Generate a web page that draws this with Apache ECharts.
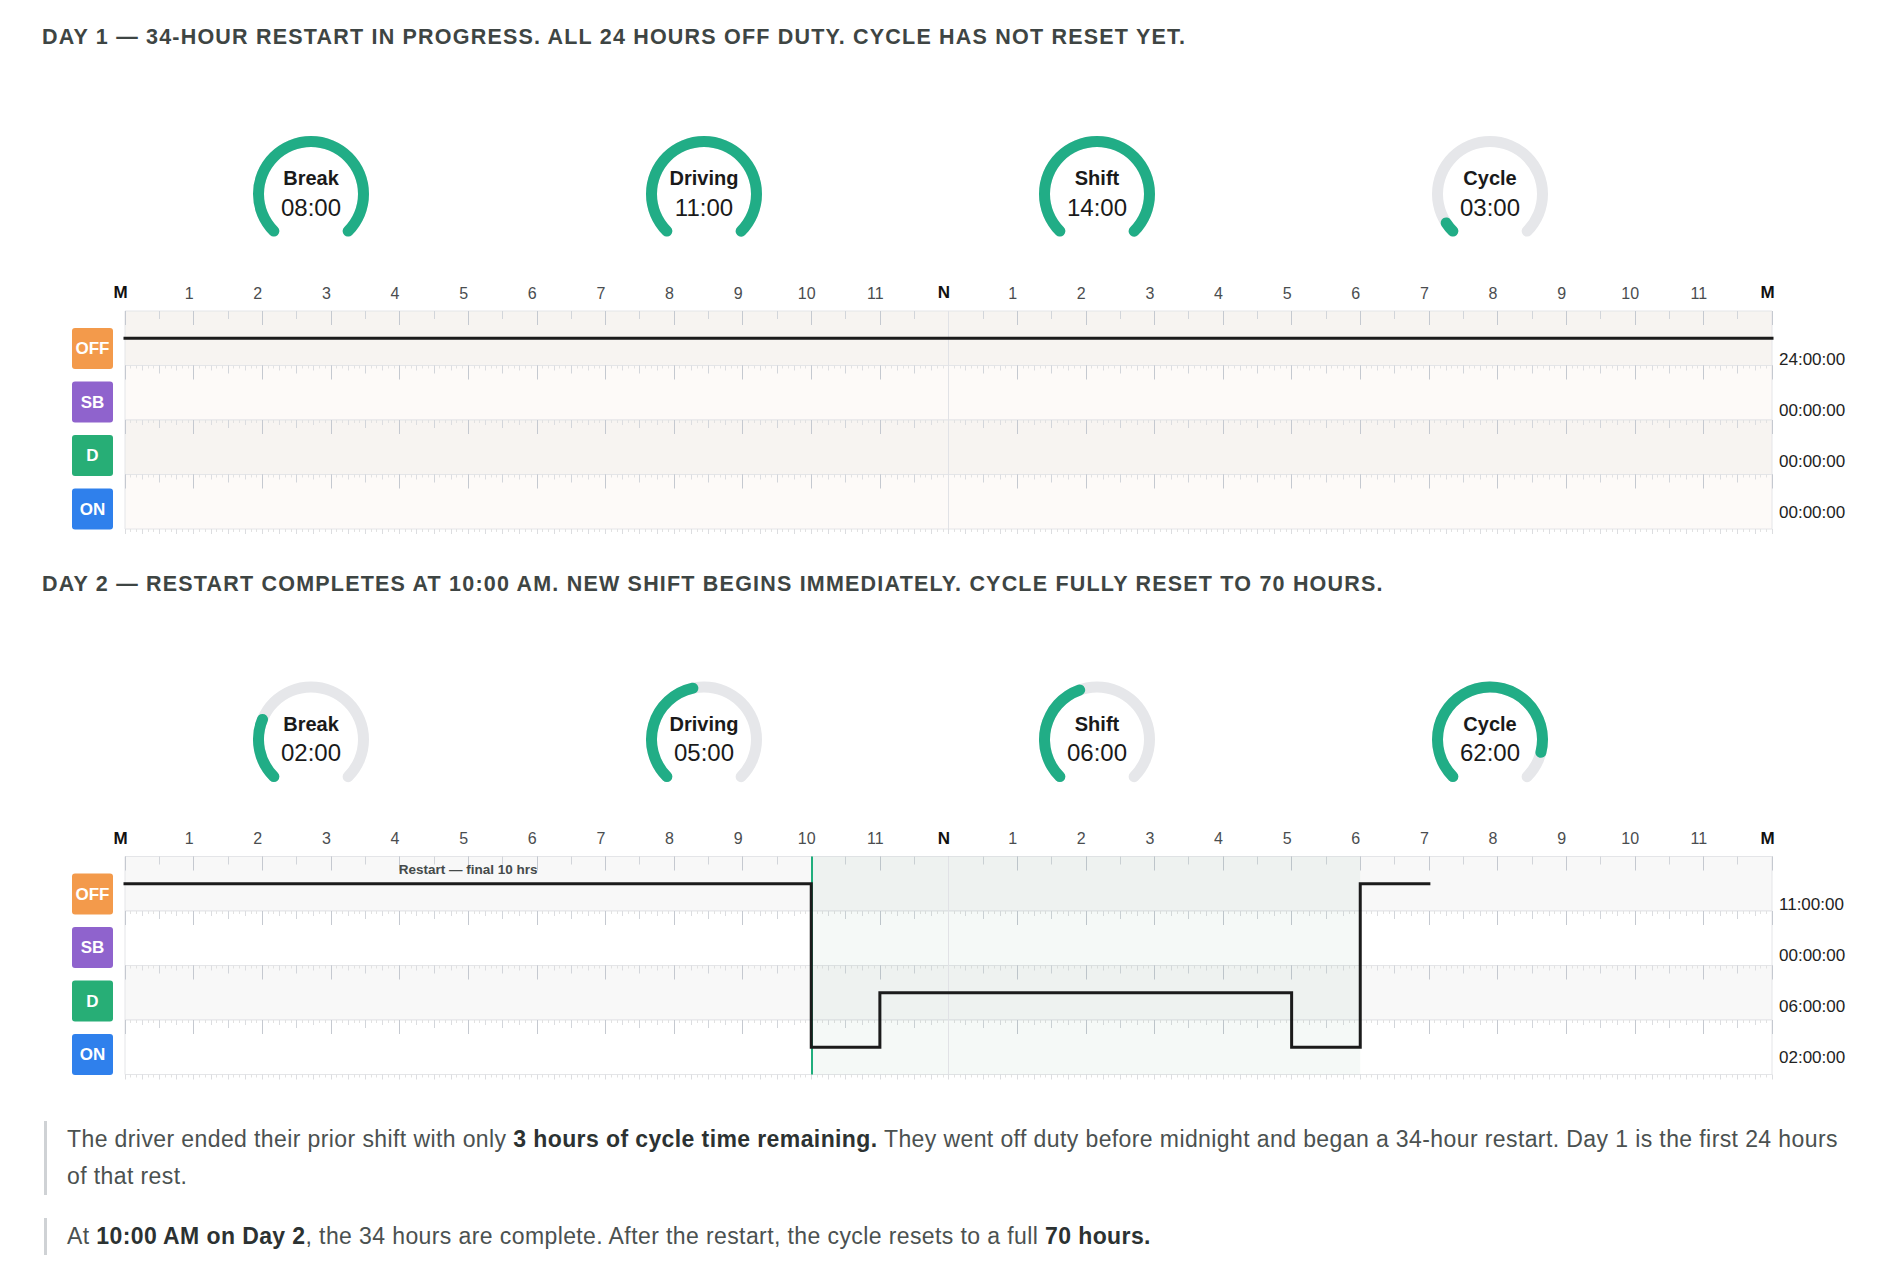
<!DOCTYPE html>
<html>
<head>
<meta charset="utf-8">
<script src="https://cdn.jsdelivr.net/npm/echarts@6/dist/echarts.min.js"></script>
<style>
  html, body { margin: 0; padding: 0; background: #fff; }
  body { width: 1902px; height: 1276px; position: relative; overflow: hidden; font-family: 'Liberation Sans', Arial, sans-serif; }
  #chart { position: absolute; left: 0; top: 0; width: 1902px; height: 1276px; }
  .day-title { position: absolute; left: 42px; font-size: 21.5px; line-height: 24px; font-weight: bold; letter-spacing: 1.2px; color: #3e4543; white-space: nowrap; }
  .note { position: absolute; left: 44px; border-left: 3px solid #cfd2d5; padding-left: 20px; font-size: 23px; line-height: 37px; letter-spacing: 0.4px; color: #4b5150; white-space: nowrap; }
  .note b { color: #2c3232; }
</style>
</head>
<body>
<div id="chart"></div>
<div class="day-title" style="top:25px">DAY 1 — 34-HOUR RESTART IN PROGRESS. ALL 24 HOURS OFF DUTY. CYCLE HAS NOT RESET YET.</div>
<div class="day-title" style="top:572px">DAY 2 — RESTART COMPLETES AT 10:00 AM. NEW SHIFT BEGINS IMMEDIATELY. CYCLE FULLY RESET TO 70 HOURS.</div>
<div class="note" style="top:1121px">The driver ended their prior shift with only <b>3 hours of cycle time remaining.</b> They went off duty before midnight and began a 34-hour restart. Day 1 is the first 24 hours<br>of that rest.</div>
<div class="note" style="top:1218px">At <b>10:00 AM on Day 2</b>, the 34 hours are complete. After the restart, the cycle resets to a full <b>70 hours.</b></div>
<script>
// hour labels across the log grid (midnight to midnight)
const hourLabels = ['M', '1', '2', '3', '4', '5', '6', '7', '8', '9', '10', '11', 'N',
  '1', '2', '3', '4', '5', '6', '7', '8', '9', '10', '11', 'M']
// duty statuses, bottom row first (category axis order)
const statuses = ['ON', 'D', 'SB', 'OFF']
const statusColors = { OFF: '#f39a4b', SB: '#8f63cd', D: '#27ae76', ON: '#2f80ec' }

// gauges
const gaugeNames = ['Break', 'Driving', 'Shift', 'Cycle']
const gaugeMax = [8, 11, 14, 70]
const day1Gauge = [8, 11, 14, 3]
const day2Gauge = [2, 5, 6, 62]

// duty segments [startHour, endHour, status]
const day1Segments = [[0, 24, 'OFF']]
const day2Segments = [[0, 10, 'OFF'], [10, 11, 'ON'], [11, 17, 'D'], [17, 18, 'ON'], [18, 19, 'OFF']]

// totals per row, top row (OFF) first
const day1Totals = ['24:00:00', '00:00:00', '00:00:00', '00:00:00']
const day2Totals = ['11:00:00', '00:00:00', '06:00:00', '02:00:00']

const noonHour = 12
const restartEndHour = 10
const newShiftEndHour = 18
const restartLabel = 'Restart — final 10 hrs'

const FONT = "'Liberation Sans', Arial, sans-serif"
const LEFT = 125
const WIDTH = 1647
const ROW_H = 54.5
const gaugeX = [311, 704, 1097, 1490]

const days = [
  { top: 311, gaugeY: 194, gauges: day1Gauge, segments: day1Segments, totals: day1Totals,
    rowColors: ['#f7f4f1', '#fdfaf8', '#f7f4f1', '#fdfaf8'], restart: false },
  { top: 856.5, gaugeY: 739.5, gauges: day2Gauge, segments: day2Segments, totals: day2Totals,
    rowColors: ['#f8f8f8', '#ffffff', '#f8f8f8', '#ffffff'], restart: true }
]

const grid = []
const xAxis = []
const yAxis = []
const series = []

function addGrid(g) {
  grid.push(g)
  return grid.length - 1
}

days.forEach(day => {
  // row strips with ruler ticks
  day.rowColors.forEach((bg, i) => {
    const gi = addGrid({
      left: LEFT, width: WIDTH, top: day.top + i * ROW_H, height: ROW_H,
      show: true, backgroundColor: bg, borderColor: '#e4e5e8', borderWidth: 1
    })
    yAxis.push({ gridIndex: gi, type: 'value', show: false })
    const tickSets = [
      { interval: 0.25, length: 5, color: '#dcdde0', minor: true },
      { interval: 0.5, length: 8, color: '#d2d5da' },
      { interval: 1, length: 14, color: '#c5c9d0' }
    ]
    tickSets.forEach(t => {
      xAxis.push({
        gridIndex: gi, type: 'value', min: 0, max: 24, interval: t.interval, position: 'top',
        axisLine: { show: false }, axisLabel: { show: false }, splitLine: { show: false },
        axisTick: { show: true, inside: true, length: t.length, lineStyle: { color: t.color, width: 1 } },
        minorTick: t.minor
          ? { show: true, splitNumber: 3, length: 3, lineStyle: { color: '#e2e2e2', width: 1 } }
          : { show: false }
      })
    })
  })

  // main grid for the duty line and hour labels
  const mg = addGrid({ left: LEFT, width: WIDTH, top: day.top, height: 4 * ROW_H, show: false })
  xAxis.push({
    gridIndex: mg, type: 'value', min: 0, max: 24, interval: 1, position: 'top',
    axisLine: { show: false }, axisTick: { show: false }, splitLine: { show: false },
    axisLabel: {
      show: true, margin: 10, showMinLabel: true, showMaxLabel: true, padding: [0, 9, 0, 0],
      formatter: v => {
        const s = hourLabels[v]
        return (s === 'M' || s === 'N') ? '{b|' + s + '}' : '{n|' + s + '}'
      },
      rich: {
        b: { fontFamily: FONT, fontSize: 17, fontWeight: 'bold', color: '#111' },
        n: { fontFamily: FONT, fontSize: 16, color: '#4a4d4f' }
      }
    }
  })
  const mx = xAxis.length - 1
  yAxis.push({ gridIndex: mg, type: 'category', data: statuses, show: false })
  const my = yAxis.length - 1

  const points = []
  day.segments.forEach(s => {
    points.push([s[0], s[2]])
    points.push([s[1], s[2]])
  })

  const markLines = [{ xAxis: noonHour, lineStyle: { color: '#e1e2e6', width: 1, type: 'solid' } }]
  const areas = []
  if (day.restart) {
    markLines.push({ xAxis: restartEndHour, lineStyle: { color: '#1fae7c', width: 2, type: 'solid' } })
    areas.push([{ xAxis: restartEndHour, itemStyle: { color: 'rgba(25,125,80,0.045)' } }, { xAxis: newShiftEndHour }])
    areas.push([{
      xAxis: 0, itemStyle: { color: 'rgba(0,0,0,0)' },
      label: {
        show: true, position: 'insideTop', distance: 6, formatter: restartLabel,
        fontFamily: FONT, fontSize: 13.5, fontWeight: 'bold', color: '#454a4a'
      }
    }, { xAxis: restartEndHour }])
  }

  series.push({
    type: 'line', xAxisIndex: mx, yAxisIndex: my, data: points, z: 10,
    symbol: 'none', silent: true, animation: false,
    lineStyle: { color: '#1b1b1b', width: 3, cap: 'square', join: 'miter' },
    markLine: { silent: true, symbol: ['none', 'none'], z: 5, label: { show: false }, data: markLines, animation: false },
    markArea: { silent: true, z: 1, data: areas, animation: false }
  })

  // status badges on the left
  const bg = addGrid({ left: LEFT, width: WIDTH, top: day.top + 10.75, height: 214, show: false })
  xAxis.push({ gridIndex: bg, type: 'value', show: false })
  const rich = {}
  statuses.forEach(s => {
    rich[s] = {
      backgroundColor: statusColors[s], color: '#fff', width: 41, height: 41, lineHeight: 41,
      align: 'center', borderRadius: 3, fontFamily: FONT, fontSize: 17, fontWeight: 'bold'
    }
  })
  yAxis.push({
    gridIndex: bg, type: 'category', data: statuses, position: 'left',
    axisLine: { show: false }, axisTick: { show: false }, splitLine: { show: false },
    axisLabel: { margin: 12, formatter: v => '{' + v + '|' + v + '}', rich: rich }
  })

  // totals on the right
  const tg = addGrid({ left: LEFT, width: WIDTH, top: day.top + 22.5, height: 204.5, show: false })
  xAxis.push({ gridIndex: tg, type: 'value', show: false })
  yAxis.push({
    gridIndex: tg, type: 'category', data: statuses, position: 'right',
    axisLine: { show: false }, axisTick: { show: false }, splitLine: { show: false },
    axisLabel: {
      margin: 7, fontFamily: FONT, fontSize: 17, color: '#222',
      formatter: (v, idx) => day.totals[statuses.length - 1 - idx]
    }
  })

  // gauges
  gaugeNames.forEach((name, i) => {
    series.push({
      type: 'gauge', center: [gaugeX[i], day.gaugeY], radius: 58,
      startAngle: 225, endAngle: -45, min: 0, max: gaugeMax[i], animation: false,
      pointer: { show: false }, axisTick: { show: false }, splitLine: { show: false }, axisLabel: { show: false },
      progress: { show: true, width: 11, roundCap: true, itemStyle: { color: '#21ad86' } },
      axisLine: { roundCap: true, lineStyle: { width: 11, color: [[1, '#e6e7ea']] } },
      title: { offsetCenter: [0, -16], fontFamily: FONT, fontSize: 20, fontWeight: 'bold', color: '#1a1a1a' },
      detail: {
        offsetCenter: [0, 13], fontFamily: FONT, fontSize: 24, fontWeight: 'normal', color: '#1a1a1a',
        formatter: v => String(v).padStart(2, '0') + ':00'
      },
      data: [{ value: day.gauges[i], name: name }]
    })
  })
})

const chart = echarts.init(document.getElementById('chart'), null, { renderer: 'svg' })
chart.setOption({
  animation: false,
  textStyle: { fontFamily: FONT },
  grid: grid,
  xAxis: xAxis,
  yAxis: yAxis,
  series: series
})
</script>
</body>
</html>
